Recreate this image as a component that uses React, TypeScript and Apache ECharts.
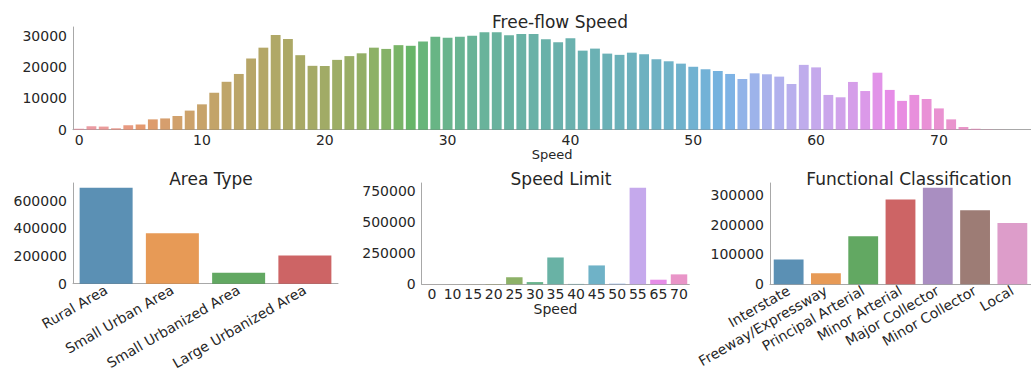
import React, { useEffect, useRef } from "react";
import * as echarts from "echarts";

// ---------- data ----------
const speedCats: string[] = Array.from({ length: 78 }, (_, i) => String(i));
const speedCounts: number[] = [
  300, 1100, 1000, 450, 1400, 1700, 3300, 3600, 4400, 6100,
  8100, 11800, 15300, 17800, 22700, 26200, 30250, 29000, 23800, 20400,
  20350, 22300, 23500, 24400, 26200, 25800, 27000, 26800, 28200, 29700,
  29400, 29700, 30000, 31100, 31100, 30150, 30600, 30600, 28900, 27900,
  29200, 25250, 25900, 24300, 23900, 24600, 24100, 22500, 21850, 21100,
  20100, 19300, 18750, 17800, 16200, 18000, 17700, 16950, 14600, 20700,
  19900, 11100, 10350, 15250, 12350, 18200, 12700, 9200, 11100, 9800,
  6800, 3300, 860, 300, 100, 30, 10, 10,
];

const areaCats = ["Rural Area", "Small Urban Area", "Small Urbanized Area", "Large Urbanized Area"];
const areaCounts = [693000, 364000, 78600, 204000];

const limitCats = ["0", "10", "15", "20", "25", "30", "35", "40", "45", "50", "55", "65", "70"];
const limitCounts = [300, 300, 800, 2500, 56000, 18000, 216000, 3000, 152000, 5000, 777000, 37000, 80000];

const funcCats = [
  "Interstate",
  "Freeway/Expressway",
  "Principal Arterial",
  "Minor Arterial",
  "Major Collector",
  "Minor Collector",
  "Local",
];
const funcCounts = [83000, 37000, 161000, 284000, 323000, 248000, 205000];

const tab10 = ["#1f77b4", "#ff7f0e", "#2ca02c", "#d62728", "#9467bd", "#8c564b", "#e377c2"];

// ---------- colour helpers (seaborn husl palette + desaturation) ----------
const M = [
  [3.2406, -1.5372, -0.4986],
  [-0.9689, 1.8758, 0.0415],
  [0.0557, -0.204, 1.057],
];
const refU = 0.19784;
const refV = 0.46834;
const kappa = 24389 / 27;
const epsilon = 216 / 24389;

function maxChroma(L: number, H: number) {
  const hrad = (H / 360) * 2 * Math.PI;
  const sinH = Math.sin(hrad);
  const cosH = Math.cos(hrad);
  const sub1 = Math.pow(L + 16, 3) / 1560896;
  const sub2 = sub1 > epsilon ? sub1 : L / kappa;
  let result = Infinity;
  for (const row of M) {
    const [m1, m2, m3] = row;
    const top = (0.99915 * m1 + 1.05122 * m2 + 1.1446 * m3) * sub2;
    const rbottom = 0.8633 * m3 - 0.17266 * m2;
    const lbottom = 0.12949 * m3 - 0.38848 * m1;
    const bottom = (rbottom * sinH + lbottom * cosH) * sub2;
    for (const t of [0, 1]) {
      const C = (L * (top - 1.05122 * t)) / (bottom + 0.17266 * sinH * t);
      if (C > 0 && C < result) result = C;
    }
  }
  return result;
}
function fInv(t: number) {
  return Math.pow(t, 3) > epsilon ? Math.pow(t, 3) : (116 * t - 16) / kappa;
}
function fromLinear(c: number) {
  return c <= 0.0031308 ? 12.92 * c : 1.055 * Math.pow(c, 1 / 2.4) - 0.055;
}
function huslToRgb(H: number, S: number, L: number): number[] {
  const C = (maxChroma(L, H) / 100) * S;
  const hrad = (H / 360) * 2 * Math.PI;
  const U = C * Math.cos(hrad);
  const V = C * Math.sin(hrad);
  const varY = fInv((L + 16) / 116);
  const varU = U / (13 * L) + refU;
  const varV = V / (13 * L) + refV;
  const Y = varY;
  const X = 0 - (9 * Y * varU) / ((varU - 4) * varV - varU * varV);
  const Z = (9 * Y - 15 * varV * Y - varV * X) / (3 * varV);
  return M.map((r) => Math.min(1, Math.max(0, fromLinear(r[0] * X + r[1] * Y + r[2] * Z))));
}
function huslPalette(n: number): number[][] {
  const out: number[][] = [];
  for (let i = 0; i < n; i++) {
    const h = ((i / n + 0.01) % 1) * 359;
    out.push(huslToRgb(h, 0.9 * 99, 0.65 * 99));
  }
  return out;
}
function hexToRgb(hex: string): number[] {
  const v = parseInt(hex.slice(1), 16);
  return [((v >> 16) & 255) / 255, ((v >> 8) & 255) / 255, (v & 255) / 255];
}
function desat(rgb: number[], k = 0.75): string {
  const mx = Math.max(...rgb);
  const mn = Math.min(...rgb);
  const l = (mx + mn) / 2;
  const c = rgb.map((x) => Math.round(Math.min(1, Math.max(0, l + (x - l) * k)) * 255));
  return `rgb(${c[0]},${c[1]},${c[2]})`;
}

const FONT = "DejaVu Sans";
const TXT = "#262626";
const SPINE = "#a8a8a8";
const TICK_FS = 14;

function yAxisCfg(gridIndex: number, max: number, interval: number) {
  return {
    type: "value",
    gridIndex,
    min: 0,
    max,
    interval,
    axisLine: { show: true, lineStyle: { color: SPINE, width: 1 } },
    axisTick: { show: false },
    splitLine: { show: false },
    axisLabel: {
      color: TXT,
      fontFamily: FONT,
      fontSize: TICK_FS,
      margin: 6,
      showMaxLabel: false,
      formatter: (v: number) => String(v),
    },
  };
}

export default function App() {
  const ref = useRef<HTMLDivElement>(null);
  useEffect(() => {
    if (!ref.current) return;
    const chart = echarts.init(ref.current, undefined, { renderer: "svg" });
    const topPal = huslPalette(speedCats.length);
    const limPal = huslPalette(limitCats.length);

    const titleStyle = { color: TXT, fontFamily: FONT, fontSize: 17, fontWeight: "normal" as const };

    const option: any = {
      animation: false,
      backgroundColor: "#ffffff",
      textStyle: { fontFamily: FONT },
      title: [
        { text: "Free-flow Speed", left: 555, top: 8, textAlign: "center", textStyle: titleStyle },
        { text: "Area Type", left: 206, top: 165, textAlign: "center", textStyle: titleStyle },
        { text: "Speed Limit", left: 556, top: 165, textAlign: "center", textStyle: titleStyle },
        { text: "Functional Classification", left: 904, top: 165, textAlign: "center", textStyle: titleStyle },
      ],
      grid: [
        { left: 73, top: 27, right: 0, bottom: 242.3 },
        { left: 73, top: 183, right: 693, bottom: 87.7 },
        { left: 421.7, top: 183, right: 341.7, bottom: 87.7 },
        { left: 770, top: 183, right: -8.5, bottom: 87.7 },
      ],
      xAxis: [
        {
          type: "category",
          gridIndex: 0,
          data: speedCats,
          name: "Speed",
          nameLocation: "middle",
          nameGap: 14,
          nameTextStyle: { color: TXT, fontFamily: FONT, fontSize: 13 },
          axisLine: { lineStyle: { color: SPINE } },
          axisTick: { show: false },
          axisLabel: {
            color: TXT,
            fontFamily: FONT,
            fontSize: TICK_FS,
            margin: 3,
            interval: (i: number) => i % 10 === 0,
          },
        },
        {
          type: "category",
          gridIndex: 1,
          data: areaCats,
          axisLine: { lineStyle: { color: SPINE } },
          axisTick: { show: false },
          axisLabel: { color: TXT, fontFamily: FONT, fontSize: TICK_FS, margin: 5, rotate: 30, interval: 0 },
        },
        {
          type: "category",
          gridIndex: 2,
          data: limitCats,
          name: "Speed",
          nameLocation: "middle",
          nameGap: 16,
          nameTextStyle: { color: TXT, fontFamily: FONT, fontSize: 14 },
          axisLine: { lineStyle: { color: SPINE } },
          axisTick: { show: false },
          axisLabel: { color: TXT, fontFamily: FONT, fontSize: TICK_FS, margin: 3, interval: 0 },
        },
        {
          type: "category",
          gridIndex: 3,
          data: funcCats,
          axisLine: { lineStyle: { color: SPINE } },
          axisTick: { show: false },
          axisLabel: { color: TXT, fontFamily: FONT, fontSize: TICK_FS, margin: 5, rotate: 30, interval: 0 },
        },
      ],
      yAxis: [
        yAxisCfg(0, 32800, 10000),
        yAxisCfg(1, 728000, 200000),
        yAxisCfg(2, 816000, 250000),
        yAxisCfg(3, 339000, 100000),
      ],
      series: [
        {
          type: "bar",
          xAxisIndex: 0,
          yAxisIndex: 0,
          barCategoryGap: "20%",
          data: speedCounts.map((v, i) => ({
            value: v,
            itemStyle: { color: desat(topPal[i]), opacity: 0.8 },
          })),
        },
        {
          type: "bar",
          xAxisIndex: 1,
          yAxisIndex: 1,
          barCategoryGap: "20%",
          data: areaCounts.map((v, i) => ({
            value: v,
            itemStyle: { color: desat(hexToRgb(tab10[i])), opacity: 0.8 },
          })),
        },
        {
          type: "bar",
          xAxisIndex: 2,
          yAxisIndex: 2,
          barCategoryGap: "20%",
          data: limitCounts.map((v, i) => ({
            value: v,
            itemStyle: { color: desat(limPal[i]), opacity: 0.8 },
          })),
        },
        {
          type: "bar",
          xAxisIndex: 3,
          yAxisIndex: 3,
          barCategoryGap: "20%",
          data: funcCounts.map((v, i) => ({
            value: v,
            itemStyle: { color: desat(hexToRgb(tab10[i])), opacity: 0.8 },
          })),
        },
      ],
    };
    chart.setOption(option);
    return () => chart.dispose();
  }, []);

  return (
    <div
      ref={ref}
      style={{ position: "fixed", left: 0, top: 0, width: 1031, height: 372, overflow: "hidden", background: "#fff" }}
    />
  );
}
